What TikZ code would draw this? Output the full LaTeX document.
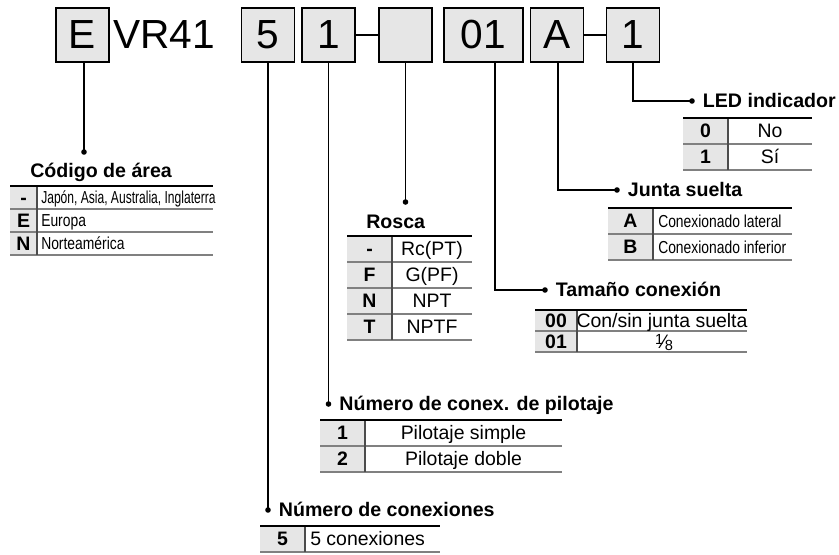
\documentclass[tikz,border=0pt]{standalone}
\usepackage{fontspec}
\setmainfont{Liberation Sans}
\newfontfamily\narrowfont{Liberation Sans}[FakeStretch=0.8]
\usetikzlibrary{positioning}
\definecolor{cellgray}{RGB}{230,230,230}
\definecolor{rulegray}{RGB}{128,128,128}

\begin{document}
\begin{tikzpicture}[x=0.75pt,y=0.75pt,yscale=-1,xscale=1,
        digit/.style={draw,line width=1.3pt,fill=cellgray,minimum width=39.75pt,minimum height=40.5pt,inner sep=0pt,font=\fontsize{30.5}{32}\selectfont},
        conn/.style={line width=1.4pt},
        ttl/.style={anchor=base west,inner sep=0pt,font=\bfseries\fontsize{14.7}{16}\selectfont},
        code/.style={inner sep=0pt,text height=10.4pt,text depth=0pt,font=\bfseries\fontsize{14.6}{16}\selectfont},
        val/.style={inner sep=0pt,text height=10.4pt,text depth=0pt,font=\fontsize{14.6}{16}\selectfont},
        nval/.style={inner sep=0pt,anchor=west,text height=9.3pt,text depth=0pt,font=\narrowfont\fontsize{13}{15}\selectfont},
        topline/.style={line width=1.5pt},
        rowline/.style={line width=1.1pt,rulegray},
        colline/.style={line width=0.8pt,black!70}]

        \useasboundingbox (0,0) rectangle (839,555);

        % Model code boxes
        \node [digit] (bE) at (82.5,35) {E};
        \draw (113,35) node [anchor=west,inner sep=0pt,font=\fontsize{30.5}{32}\selectfont] (tVR) {VR41};
        \node [digit] (b5) at (268,35) {5};
        \node [digit] (b1) at (328.5,35) {1};
        \node [digit] (bR) at (405.5,35) {};
        \node [digit,minimum width=59.25pt] (b01) at (483.5,35) {01};
        \node [digit] (bA) at (557,35) {A};
        \node [digit] (bL) at (633,35) {1};
        %Straight Lines
        \draw [conn] (b1.east) -- (bR.west) ;
        \draw [conn] (bA.east) -- (bL.west) ;

        % Leader points
        \coordinate (dArea) at (84,152);
        \coordinate (dConn) at (268,510);
        \coordinate (dPilot) at (328.5,404);
        \coordinate (dThread) at (405.5,202);
        \coordinate (kSize) at (495,290);
        \coordinate (dSize) at (545,290);
        \coordinate (kJoint) at (558,190);
        \coordinate (dJoint) at (617,190);
        \coordinate (kLed) at (633,101);
        \coordinate (dLed) at (692,101);

        %Straight Lines
        \draw [conn] (bE.south -| dArea) -- (dArea) ;
        \fill (dArea) circle (2.8) ;
        \draw [conn] (b5.south) -- (dConn) ;
        \fill (dConn) circle (2.8) ;
        \draw [conn] (b1.south) -- (dPilot) ;
        \fill (dPilot) circle (2.8) ;
        \draw [conn] (bR.south) -- (dThread) ;
        \fill (dThread) circle (2.8) ;
        \draw [conn] (b01.south -| kSize) -- (kSize) -- (dSize) ;
        \fill (dSize) circle (2.8) ;
        \draw [conn] (bA.south -| kJoint) -- (kJoint) -- (dJoint) ;
        \fill (dJoint) circle (2.8) ;
        \draw [conn] (bL.south) -- (kLed) -- (dLed) ;
        \fill (dLed) circle (2.8) ;

        % Titles
        \node [ttl] (tArea) at (30,178) {Código de área};
        \node [ttl] (tThread) at (366,229) {Rosca};
        \node [ttl,xshift=8pt,yshift=-5.2pt] (tSize) at (dSize) {Tamaño conexión};
        \node [ttl,xshift=8pt,yshift=-5.2pt] (tJoint) at (dJoint) {Junta suelta};
        \node [ttl,xshift=8pt,yshift=-5.2pt] (tLed) at (dLed) {LED indicador};
        \node [ttl,xshift=8pt,yshift=-5.2pt] (tPilot) at (dPilot) {Número de conex. de pilotaje};
        \node [ttl,xshift=8pt,yshift=-5.2pt] (tConn) at (dConn) {Número de conexiones};

        % Table: area
        \fill [cellgray] (10,186) rectangle (37,255);
        \draw [rowline] (10,209) -- (213,209) (10,232) -- (213,232) (10,255) -- (213,255);
        \draw [colline] (37,186) -- (37,255);
        \draw [topline] (10,186) -- (213,186);
        \node [code] (cArea1) at (23.5,197.5) {-};
        \node [code] (cArea2) at (23.5,220.5) {E};
        \node [code] (cArea3) at (23.5,243.5) {N};
        \node [nval] (vArea1) at (41,197.5) {\scalebox{0.87}[1]{Japón, Asia, Australia, Inglaterra}};
        \node [nval] (vArea2) at (41,220.5) {Europa};
        \node [nval] (vArea3) at (41,243.5) {Norteamérica};

        % Table: thread
        \fill [cellgray] (347,236) rectangle (392,340);
        \draw [rowline] (347,262) -- (472,262) (347,288) -- (472,288) (347,314) -- (472,314) (347,340) -- (472,340);
        \draw [colline] (392,236) -- (392,340);
        \draw [topline] (347,236) -- (472,236);
        \node [code] (cThread1) at (369.5,249) {-};
        \node [code] (cThread2) at (369.5,275) {F};
        \node [code] (cThread3) at (369.5,301) {N};
        \node [code] (cThread4) at (369.5,327) {T};
        \node [val] (vThread1) at (432,249) {Rc(PT)};
        \node [val] (vThread2) at (432,275) {G(PF)};
        \node [val] (vThread3) at (432,301) {NPT};
        \node [val] (vThread4) at (432,327) {NPTF};

        % Table: port size
        \fill [cellgray] (535,310) rectangle (577,352);
        \draw [rowline] (535,331) -- (747,331) (535,352) -- (747,352);
        \draw [colline] (577,310) -- (577,352);
        \draw [topline] (535,310) -- (747,310);
        \node [code] (cSize1) at (556,320.5) {00};
        \node [code] (cSize2) at (556,341.5) {01};
        \node [val] (vSize1) at (662,320.5) {Con/sin junta suelta};
        \node [val] (vSize2) at (664,341.5) {\raisebox{3.2pt}{\fontsize{11}{12}\selectfont 1}\kern-0.6pt\char"2044\kern-0.6pt\raisebox{-1.2pt}{\fontsize{11}{12}\selectfont 8}};

        % Table: joint
        \fill [cellgray] (608,208) rectangle (653,260);
        \draw [rowline] (608,234) -- (792,234) (608,260) -- (792,260);
        \draw [colline] (653,208) -- (653,260);
        \draw [topline] (608,208) -- (792,208);
        \node [code] (cJoint1) at (630.5,221) {A};
        \node [code] (cJoint2) at (630.5,247) {B};
        \node [nval] (vJoint1) at (658,221) {Conexionado lateral};
        \node [nval] (vJoint2) at (658,247) {Conexionado inferior};

        % Table: LED
        \fill [cellgray] (683,118) rectangle (728,170);
        \draw [rowline] (683,144) -- (812,144) (683,170) -- (812,170);
        \draw [colline] (728,118) -- (728,170);
        \draw [topline] (683,118) -- (812,118);
        \node [code] (cLed1) at (705.5,131) {0};
        \node [code] (cLed2) at (705.5,157) {1};
        \node [val] (vLed1) at (770,131) {No};
        \node [val] (vLed2) at (770,157) {Sí};

        % Table: pilot ports
        \fill [cellgray] (320,420) rectangle (365,472);
        \draw [rowline] (320,446) -- (562,446) (320,472) -- (562,472);
        \draw [colline] (365,420) -- (365,472);
        \draw [topline] (320,420) -- (562,420);
        \node [code] (cPilot1) at (342.5,433) {1};
        \node [code] (cPilot2) at (342.5,459) {2};
        \node [val] (vPilot1) at (463.5,433) {Pilotaje simple};
        \node [val] (vPilot2) at (463.5,459) {Pilotaje doble};

        % Table: ports
        \fill [cellgray] (260,526) rectangle (305,552);
        \draw [rowline] (260,552) -- (440,552);
        \draw [colline] (305,526) -- (305,552);
        \draw [topline] (260,526) -- (440,526);
        \node [code] (cConn1) at (282.5,539) {5};
        \node [val,anchor=west] (vConn1) at (310,539) {5 conexiones};

\end{tikzpicture}
\end{document}
